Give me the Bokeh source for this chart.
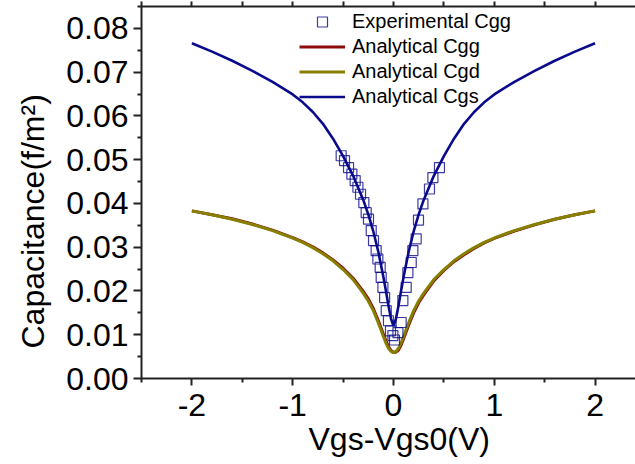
from bokeh.plotting import figure
from bokeh.models import (LinearAxis, FixedTicker, PrintfTickFormatter, Range1d,
                          Legend, LegendItem, Title)
from bokeh.embed import file_html
from bokeh.resources import INLINE

# ---- data ----
x_an = [-2.0, -1.8, -1.6, -1.4, -1.2, -1.0, -0.9, -0.8, -0.7, -0.6, -0.5, -0.4, -0.3,
        -0.25, -0.2, -0.15, -0.1, -0.075, -0.05, -0.025, 0.0, 0.025, 0.05, 0.075,
        0.1, 0.15, 0.2, 0.25, 0.3, 0.4, 0.5, 0.6, 0.7, 0.8, 0.9, 1.0, 1.2, 1.4, 1.6,
        1.8, 2.0]

cgs_an = [0.0766, 0.0747, 0.0726, 0.0703, 0.0678, 0.0649, 0.0631, 0.0609, 0.0582,
          0.0548, 0.0508, 0.0463, 0.0408, 0.0375, 0.0336, 0.0289, 0.0232, 0.0200,
          0.0167, 0.0137, 0.0120, 0.0137, 0.0167, 0.0200, 0.0232, 0.0289, 0.0336,
          0.0375, 0.0408, 0.0463, 0.0508, 0.0548, 0.0582, 0.0609, 0.0631, 0.0649,
          0.0678, 0.0703, 0.0726, 0.0747, 0.0766]

cgd_an = [0.0383, 0.0374, 0.0364, 0.0352, 0.0338, 0.0321, 0.0311, 0.0299, 0.0285,
          0.0269, 0.0249, 0.0226, 0.0195, 0.0177, 0.0155, 0.0127, 0.0096, 0.0081,
          0.0069, 0.0062, 0.0059, 0.0062, 0.0069, 0.0081, 0.0096, 0.0127, 0.0155,
          0.0177, 0.0195, 0.0226, 0.0249, 0.0269, 0.0285, 0.0299, 0.0311, 0.0321,
          0.0338, 0.0352, 0.0364, 0.0374, 0.0383]

cgg_an = [0.0383, 0.0374, 0.0365, 0.0353, 0.0339, 0.0322, 0.0312, 0.0301, 0.0287,
          0.0271, 0.0252, 0.0229, 0.0199, 0.0182, 0.0160, 0.0132, 0.0101, 0.0086,
          0.0073, 0.0064, 0.0060, 0.0060, 0.0065, 0.0076, 0.0091, 0.0122, 0.0150,
          0.0173, 0.0191, 0.0223, 0.0247, 0.0267, 0.0283, 0.0297, 0.0310, 0.0320,
          0.0337, 0.0351, 0.0364, 0.0374, 0.0383]

x_exp = [-0.519, -0.486, -0.446, -0.413, -0.380, -0.353, -0.327, -0.294, -0.271,
         -0.248, -0.221, -0.198, -0.172, -0.155, -0.132, -0.122, -0.105, -0.088,
         -0.072, -0.050, -0.030, -0.006, 0.010, 0.044, 0.076, 0.093, 0.126, 0.143,
         0.176, 0.192, 0.225, 0.248, 0.292, 0.357, 0.391, 0.456]
cgg_exp = [0.0509, 0.0498, 0.0482, 0.0467, 0.0452, 0.0437, 0.0421, 0.0402, 0.0379,
           0.0364, 0.0338, 0.0315, 0.0292, 0.0273, 0.0254, 0.0231, 0.0208, 0.0185,
           0.0155, 0.0132, 0.0109, 0.0098, 0.0088, 0.0105, 0.0128, 0.0178, 0.0208,
           0.0242, 0.0265, 0.0292, 0.0319, 0.0362, 0.0399, 0.0433, 0.0459, 0.0482]

x_ticks = [-2, -1, 0, 1, 2]
x_minor = [-2.5, -1.5, -0.5, 0.5, 1.5]
y_ticks = [0.0, 0.01, 0.02, 0.03, 0.04, 0.05, 0.06, 0.07, 0.08]
y_minor = [0.005, 0.015, 0.025, 0.035, 0.045, 0.055, 0.065, 0.075, 0.085]

x_label = "Vgs-Vgs0(V)"
y_label = "Capacitance(f/m\u00b2)"
legend_labels = ["Experimental Cgg", "Analytical Cgg", "Analytical Cgd", "Analytical Cgs"]

FONT = "Liberation Sans"
NAVY = "#0a0a8c"
MAROON = "#8b0a0a"
OLIVE = "#858000"
AXIS_C = "#222222"
X_END = 2.401

p = figure(frame_width=494, frame_height=372, output_backend="svg", toolbar_location=None,
           tools="", x_range=Range1d(-2.5, X_END), y_range=Range1d(0, 0.085),
           min_border_left=141, min_border_right=0, min_border_top=6, min_border_bottom=86,
           background_fill_color="white", border_fill_color="white",
           outline_line_color=None, outline_line_alpha=0)
p.grid.visible = False

for ax in (p.xaxis[0], p.yaxis[0]):
    ax.axis_line_color = AXIS_C
    ax.axis_line_width = 2
    ax.major_tick_line_color = AXIS_C
    ax.major_tick_line_width = 2
    ax.minor_tick_line_color = AXIS_C
    ax.minor_tick_line_width = 2
    ax.major_tick_in = 0
    ax.minor_tick_in = 0
    ax.major_label_text_font = FONT
    ax.major_label_text_font_size = "32px"
    ax.major_label_text_color = "black"

p.xaxis[0].ticker = FixedTicker(ticks=x_ticks, minor_ticks=x_minor)
p.xaxis[0].formatter = PrintfTickFormatter(format="%d")
p.xaxis[0].major_tick_out = 7
p.xaxis[0].minor_tick_out = 4
p.xaxis[0].major_label_standoff = 8

p.yaxis[0].ticker = FixedTicker(ticks=y_ticks, minor_ticks=y_minor)
p.yaxis[0].formatter = PrintfTickFormatter(format="%.2f")
p.yaxis[0].major_tick_out = 8
p.yaxis[0].minor_tick_out = 4
p.yaxis[0].major_label_standoff = 5

top = LinearAxis(ticker=FixedTicker(ticks=x_ticks, minor_ticks=x_minor),
                 major_label_text_font_size="0px", major_label_text_alpha=0,
                 axis_line_color=AXIS_C, axis_line_width=2,
                 major_tick_line_color=AXIS_C, major_tick_line_width=2,
                 minor_tick_line_color=AXIS_C, minor_tick_line_width=2,
                 major_tick_in=0, minor_tick_in=0, major_tick_out=5, minor_tick_out=5,
                 major_label_standoff=0)
p.add_layout(top, "above")

# axis titles, placed along the axes as in the reference
p.add_layout(Title(text=x_label, align="left", offset=167, standoff=0,
                   text_font=FONT, text_font_size="32px", text_font_style="normal",
                   text_color="black"), "below")
p.add_layout(Title(text=y_label, align="left", offset=30, standoff=24,
                   vertical_align="middle",
                   text_font=FONT, text_font_size="32px", text_font_style="normal",
                   text_color="black"), "left")

r_cgg = p.line(x_an, cgg_an, line_color=MAROON, line_width=3)
r_cgd = p.line(x_an, cgd_an, line_color=OLIVE, line_width=3)
r_exp = p.scatter(x_exp, cgg_exp, marker="square", size=10, fill_color=None,
                  line_color=NAVY, line_width=1.2, line_alpha=0.8)
r_cgs = p.line(x_an, cgs_an, line_color=NAVY, line_width=2.6)

legend = Legend(items=[LegendItem(label=legend_labels[0], renderers=[r_exp]),
                       LegendItem(label=legend_labels[1], renderers=[r_cgg]),
                       LegendItem(label=legend_labels[2], renderers=[r_cgd]),
                       LegendItem(label=legend_labels[3], renderers=[r_cgs])],
                location=(158, 269), padding=0, margin=0, spacing=0,
                glyph_width=46, glyph_height=25, label_height=25, label_standoff=7,
                label_text_font=FONT, label_text_font_size="20px",
                label_text_color="black", label_text_baseline="middle",
                border_line_color=None, background_fill_alpha=0)
p.add_layout(legend, "center")

open("out.html", "w").write(file_html(p, INLINE))
